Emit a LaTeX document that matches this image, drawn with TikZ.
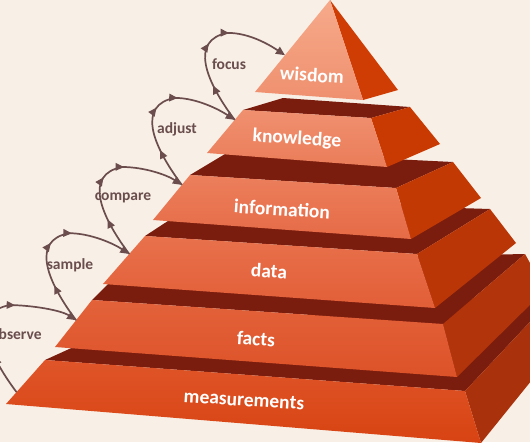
\documentclass[tikz,border=0pt]{standalone}
\usepackage{fontspec}
\setmainfont{Carlito}
\usetikzlibrary{calc,arrows.meta,decorations.markings}
\definecolor{bg}{HTML}{F8EFE6}
\definecolor{band}{HTML}{7B1D0E}
\definecolor{arrowc}{HTML}{6B4D4D}
\definecolor{txtc}{HTML}{6A4E4E}
\definecolor{sideW}{HTML}{CF3C04}
\definecolor{sideK}{HTML}{C93A03}
\definecolor{sideI}{HTML}{C23904}
\definecolor{sideD}{HTML}{BA3606}
\definecolor{sideF}{HTML}{B2340A}
\definecolor{sideM}{HTML}{A9320C}
\definecolor{wT}{HTML}{F6AA8A}\definecolor{wB}{HTML}{EF906F}
\definecolor{kT}{HTML}{F0906F}\definecolor{kB}{HTML}{EA7C59}
\definecolor{iT}{HTML}{EC7F5C}\definecolor{iB}{HTML}{E66A46}
\definecolor{dT}{HTML}{E8714C}\definecolor{dB}{HTML}{E25E37}
\definecolor{fT}{HTML}{E3623A}\definecolor{fB}{HTML}{DD5228}
\definecolor{mT}{HTML}{DF5529}\definecolor{mB}{HTML}{D84312}
\newcommand\drawlayer[4]{%
  \fill[band] (#1-FTL) -- (#1-BTL) -- (#1-BTR) -- (#1-FTR) -- cycle;
  \fill[#4] (#1-FTR) -- (#1-BTR) -- (#1-BBR) -- (#1-FBR) -- cycle;
  \shade[top color=#2,bottom color=#3] (#1-FTL) -- (#1-FTR) -- (#1-FBR) -- (#1-FBL) -- cycle;
}
\newcommand\cycarrow[2]{%
  \draw[cyclearrow] (#1) .. controls ($(#1)+(-30,-40)$) and ($(#1)+(-45,-80)$) .. ($(#1)+(-7,-87)$)
    .. controls ($(#1)+(15,-87)$) and ($(#2)+(-15,-10)$) .. (#2);
}
\begin{document}
\begin{tikzpicture}[x=1pt,y=-1pt,
  cyclearrow/.style={draw=arrowc,line width=1.7pt,-{Triangle[length=9pt,width=8pt]},
    postaction={decorate},
    decoration={markings,
      mark=at position 0.24 with {\arrow[arrowc]{Triangle[length=8.5pt,width=7.5pt]}},
      mark=at position 0.50 with {\arrow[arrowc]{Triangle[length=8.5pt,width=7.5pt]}},
      mark=at position 0.64 with {\arrow[arrowc]{Triangle[length=8.5pt,width=7.5pt]}}}},
  lvl/.style={text=white,font=\bfseries\fontsize{19.5}{22}\selectfont,rotate=-3.5,inner sep=0pt},
  act/.style={text=txtc,font=\bfseries\fontsize{15.5}{18}\selectfont,inner sep=0pt}]
\useasboundingbox (0,0) rectangle (530,442);
\clip (0,0) rectangle (530,442);
\fill[bg] (0,0) rectangle (530,442);

% measurements
\coordinate (M-FTL) at (45,360);  \coordinate (M-FTR) at (465,391);
\coordinate (M-FBR) at (481,443); \coordinate (M-FBL) at (6,404);
\coordinate (M-BTR) at (560,290); \coordinate (M-BBR) at (565,339);
\coordinate (M-BTL) at (100,335);
% facts
\coordinate (F-FTL) at (92,300);  \coordinate (F-FTR) at (443,324);
\coordinate (F-FBR) at (457,377); \coordinate (F-FBL) at (55,347);
\coordinate (F-BTR) at (525,254); \coordinate (F-BBR) at (545,290);
\coordinate (F-BTL) at (130,262);
% data
\coordinate (D-FTL) at (145,236); \coordinate (D-FTR) at (417,254);
\coordinate (D-FBR) at (435,308); \coordinate (D-FBL) at (103,284);
\coordinate (D-BTR) at (490,209); \coordinate (D-BBR) at (516,243);
\coordinate (D-BTL) at (200,200);
% information
\coordinate (I-FTL) at (190,175); \coordinate (I-FTR) at (396,188);
\coordinate (I-FBR) at (411,239); \coordinate (I-FBL) at (153,220);
\coordinate (I-BTR) at (453,162); \coordinate (I-BBR) at (481,198);
\coordinate (I-BTL) at (230,151);
% knowledge
\coordinate (K-FTL) at (243,110); \coordinate (K-FTR) at (371,118);
\coordinate (K-FBR) at (387,167); \coordinate (K-FBL) at (207,153);
\coordinate (K-BTR) at (410,107); \coordinate (K-BBR) at (440,144);
\coordinate (K-BTL) at (283,98);
% wisdom
\coordinate (W-A) at (330,0); \coordinate (W-FL) at (255,92);
\coordinate (W-FR) at (363,100); \coordinate (W-BR) at (398,90);

\drawlayer{M}{mT}{mB}{sideM}
\drawlayer{F}{fT}{fB}{sideF}
\drawlayer{D}{dT}{dB}{sideD}
\drawlayer{I}{iT}{iB}{sideI}
\drawlayer{K}{kT}{kB}{sideK}
\fill[sideW] (W-A) -- (W-FR) -- (W-BR) -- cycle;
\shade[top color=wT,bottom color=wB] (W-A) -- (W-FL) -- (W-FR) -- cycle;

% labels on layers
\node[lvl] (lw) at (312,75) {wisdom};
\node[lvl] (lk) at (297,139) {knowledge};
\node[lvl] (li) at (282,209) {information};
\node[lvl] (ld) at (269,271) {data};
\node[lvl] (lf) at (256,339) {facts};
\node[lvl] (lm) at (244,400) {measurements};

% loop points
\coordinate (pM) at ($(M-FTL)!0.73!(M-FBL)$);
\coordinate (pF) at ($(F-FTL)!0.43!(F-FBL)$);
\coordinate (pD) at ($(D-FTL)!0.375!(D-FBL)$);
\coordinate (pI) at ($(I-FTL)!0.22!(I-FBL)$);
\coordinate (pK) at ($(K-FTL)!0.23!(K-FBL)$);
\coordinate (pW) at ($(W-A)!0.6!(W-FL)$);

\cycarrow{pM}{pF}
\cycarrow{pF}{pD}
\cycarrow{pD}{pI}
\cycarrow{pI}{pK}
\cycarrow{pK}{pW}

\node[act] (ao) at (16,334) {observe};
\node[act] (as) at (70,265) {sample};
\node[act] (ac) at (123,198) {compare};
\node[act] (aa) at (177,129) {adjust};
\node[act] (af) at (229,64) {focus};
\end{tikzpicture}
\end{document}
